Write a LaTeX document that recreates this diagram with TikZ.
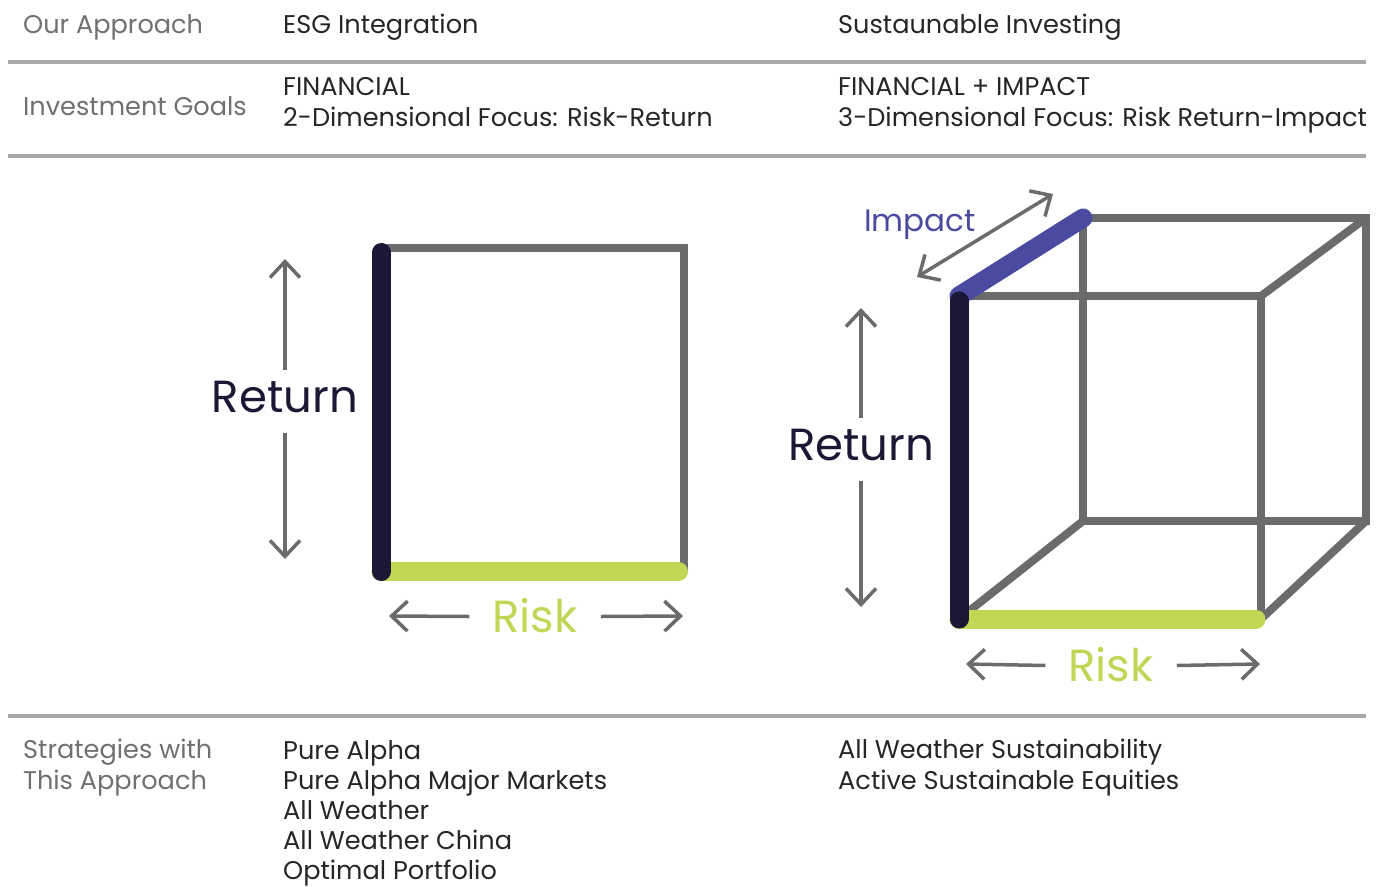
\documentclass[tikz,border=0pt]{standalone}
\usepackage{fontspec}
\setmainfont{Poppins}
\usetikzlibrary{arrows.meta}
\definecolor{navy}{HTML}{1A1834}
\definecolor{impactblue}{HTML}{4A4AA0}
\definecolor{riskgreen}{HTML}{C0D654}
\definecolor{framegray}{HTML}{6B6B6B}
\definecolor{rulegray}{HTML}{A8A8A8}
\definecolor{labelgray}{HTML}{707070}
\definecolor{textdark}{HTML}{262626}
\begin{document}
\begin{tikzpicture}
		[x=1pt,y=-1pt,
		>={Straight Barb[length=16pt,width=30pt]},
		rowhead/.style={anchor=base west,inner sep=0pt,align=left,
			text=labelgray,font=\fontsize{25.6}{30.6}\selectfont},
		cell/.style={rowhead,text=textdark},
		rule/.style={draw=rulegray,line width=4pt},
		frame/.style={draw=framegray,line width=8pt},
		bar/.style={line width=19pt,line cap=round},
		axisarrow/.style={draw=framegray,line width=3.5pt},
		axislabel/.style={anchor=base,inner xsep=23pt,inner ysep=11pt,
			text height=31pt,text depth=0pt,font=\fontsize{45}{45}\selectfont},
		returnlabel/.style={axislabel,text=navy,text depth=10pt}]
		\useasboundingbox (0,0) rectangle (1388,886);
		% table rows (base = last line)
		\node[rowhead] (approach) at (23,33) {Our Approach};
		\node[cell] (esg) at (283,33) {ESG Integration};
		\node[cell] (sustain) at (838,33) {Sustaunable Investing};
		\draw[rule] (8,62) -- (1366,62);
		\node[rowhead] (goals) at (23,115) {Investment Goals};
		\node[cell] (esggoals) at (283,126) {FINANCIAL\\2-Dimensional Focus: Risk-Return};
		\node[cell] (sustaingoals) at (838,126) {FINANCIAL + IMPACT\\3-Dimensional Focus: Risk Return-Impact};
		\draw[rule] (8,155.5) -- (1366,155.5);
		\draw[rule] (8,716) -- (1366,716);
		\node[rowhead] (strategies) at (23,789) {Strategies with\\This Approach};
		\node[cell,font=\fontsize{25.6}{30}\selectfont] (esgstrat) at (283,879) {Pure Alpha\\Pure Alpha Major Markets\\All Weather\\All Weather China\\Optimal Portfolio};
		\node[cell] (sustainstrat) at (838,789) {All Weather Sustainability\\Active Sustainable Equities};
		% square: risk-return
		\coordinate (sqTL) at (381,247.5);
		\coordinate (sqTR) at (684,247.5);
		\coordinate (sqBR) at (684,571.5);
		\coordinate (sqBL) at (381,571.5);
		\draw[frame] (sqTL) -- (sqTR) -- (sqBR);
		\draw[bar,riskgreen,shorten >=5.5pt] (sqBL) -- (sqBR);
		\draw[bar,navy,shorten <=5pt] (sqTL) -- (sqBL);
		\node[returnlabel] (return1) at (285,412) {Return};
		\coordinate (return1up) at (285,259);
		\coordinate (return1down) at (285,559);
		\draw[axisarrow,->] (return1.north) -- (return1up);
		\draw[axisarrow,->] (return1.south) -- (return1down);
		\node[axislabel,text=riskgreen] (risk1) at (535,632) {Risk};
		\coordinate (risk1left) at (389,616);
		\coordinate (risk1right) at (683,616);
		\draw[axisarrow,->] (risk1.west) -- (risk1left);
		\draw[axisarrow,->] (risk1.east) -- (risk1right);
		% cube: risk-return-impact
		\coordinate (fTL) at (959,296);
		\coordinate (fTR) at (1261,296);
		\coordinate (fBR) at (1261,619);
		\coordinate (fBL) at (959,619);
		\coordinate (bTL) at (1083,218);
		\coordinate (bTR) at (1366,218);
		\coordinate (bBR) at (1366,521);
		\coordinate (bBL) at (1083,521);
		\draw[frame] (bTL) -- (bTR) -- (bBR) -- (bBL) -- cycle;
		\draw[frame] (fTL) -- (fTR) -- (fBR) -- (fBL) -- cycle;
		\draw[frame] (fTR) -- (bTR);
		\draw[frame] (fBR) -- (bBR);
		\draw[frame] (fBL) -- (bBL);
		\draw[bar,riskgreen,shorten >=5pt] (fBL) -- (fBR);
		\draw[bar,impactblue] (fTL) -- (bTL);
		\draw[bar,navy,shorten <=5pt] (fTL) -- (fBL);
		\node[returnlabel] (return2) at (861,460) {Return};
		\coordinate (return2up) at (861,308);
		\coordinate (return2down) at (861,607);
		\draw[axisarrow,->] (return2.north) -- (return2up);
		\draw[axisarrow,->] (return2.south) -- (return2down);
		\node[axislabel,text=riskgreen] (risk2) at (1111,681) {Risk};
		\coordinate (risk2left) at (966,664);
		\coordinate (risk2right) at (1260,664);
		\draw[axisarrow,->] (risk2.west) -- (risk2left);
		\draw[axisarrow,->] (risk2.east) -- (risk2right);
		\node[anchor=base,inner sep=0pt,text=impactblue,font=\fontsize{31}{31}\selectfont] (impact) at (920,231) {Impact};
		\coordinate (impactlow) at (917,277);
		\coordinate (impacthigh) at (1053,194);
		\draw[axisarrow,<->] (impactlow) -- (impacthigh);
	\end{tikzpicture}
\end{document}
